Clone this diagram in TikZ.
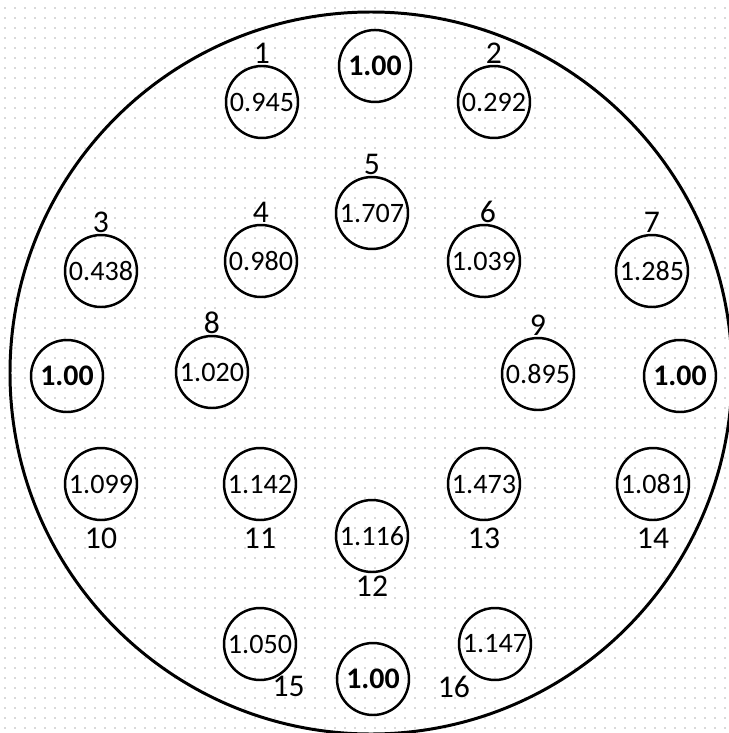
\documentclass[tikz,border=0pt]{standalone}
\usepackage{fontspec}
\setmainfont{Carlito}
\usetikzlibrary{positioning,patterns.meta}

\tikzdeclarepattern{
  name=scandots,
  type=uncolored,
  bounding box={(0,0) and (0.2cm,0.2cm)},
  tile size={(0.2cm,0.2cm)},
  code={\fill (0.1cm,0.1cm) circle (0.45pt);}
}

\tikzstyle{rod} = [circle, draw=black, line width=1.4pt, minimum size=1.44cm, inner sep=0pt, font=\fontsize{16}{16}\selectfont]
\tikzstyle{ref} = [rod, font=\fontsize{17}{17}\selectfont\bfseries]
\tikzstyle{num} = [inner sep=0.5pt, font=\fontsize{18}{18}\selectfont]

\begin{document}
\begin{tikzpicture}[x=0.02cm, y=-0.02cm]
	\useasboundingbox (0,0) rectangle (728,733);
	% Background and core outline
	\fill [pattern=scandots, pattern color=gray!60] (0,0) rectangle (728,733);
	\draw [line width=1.7pt] (371,373) circle (361);
	% Reference rods
	\node [ref] (RefTop) at (375,66) {1.00};
	\node [ref] (RefLeft) at (67,376) {1.00};
	\node [ref] (RefRight) at (680,376) {1.00};
	\node [ref] (RefBottom) at (373,679) {1.00};
	% Measured rods
	\node [rod] (Rod1) at (262,102) {0.945};
	\node [rod] (Rod2) at (494,102) {0.292};
	\node [rod] (Rod3) at (101,271) {0.438};
	\node [rod] (Rod4) at (261,261) {0.980};
	\node [rod] (Rod5) at (372,213) {1.707};
	\node [rod] (Rod6) at (484,261) {1.039};
	\node [rod] (Rod7) at (652,271) {1.285};
	\node [rod] (Rod8) at (212,372) {1.020};
	\node [rod] (Rod9) at (538,374) {0.895};
	\node [rod] (Rod10) at (101,484) {1.099};
	\node [rod] (Rod11) at (260,484) {1.142};
	\node [rod] (Rod12) at (372,536) {1.116};
	\node [rod] (Rod13) at (484,484) {1.473};
	\node [rod] (Rod14) at (653,484) {1.081};
	\node [rod] (Rod15) at (260,644) {1.050};
	\node [rod] (Rod16) at (495,644) {1.147};
	% Rod numbers
	\node [num, above=0pt of Rod1] (Num1) {1};
	\node [num, above=0pt of Rod2] (Num2) {2};
	\node [num, above=0pt of Rod3] (Num3) {3};
	\node [num, above=0pt of Rod4] (Num4) {4};
	\node [num, above=0pt of Rod5] (Num5) {5};
	\node [num, above=0pt of Rod6, xshift=0.08cm] (Num6) {6};
	\node [num, above=0pt of Rod7] (Num7) {7};
	\node [num, above=0pt of Rod8] (Num8) {8};
	\node [num, above=0pt of Rod9] (Num9) {9};
	\node [num, below=0.12cm of Rod10] (Num10) {10};
	\node [num, below=0.12cm of Rod11] (Num11) {11};
	\node [num, below=0.04cm of Rod12] (Num12) {12};
	\node [num, below=0.12cm of Rod13] (Num13) {13};
	\node [num, below=0.12cm of Rod14] (Num14) {14};
	\node [num, below right=0.1cm and -0.3cm of Rod15] (Num15) {15};
	\node [num, below left=0.1cm and -0.05cm of Rod16] (Num16) {16};
\end{tikzpicture}
\end{document}
